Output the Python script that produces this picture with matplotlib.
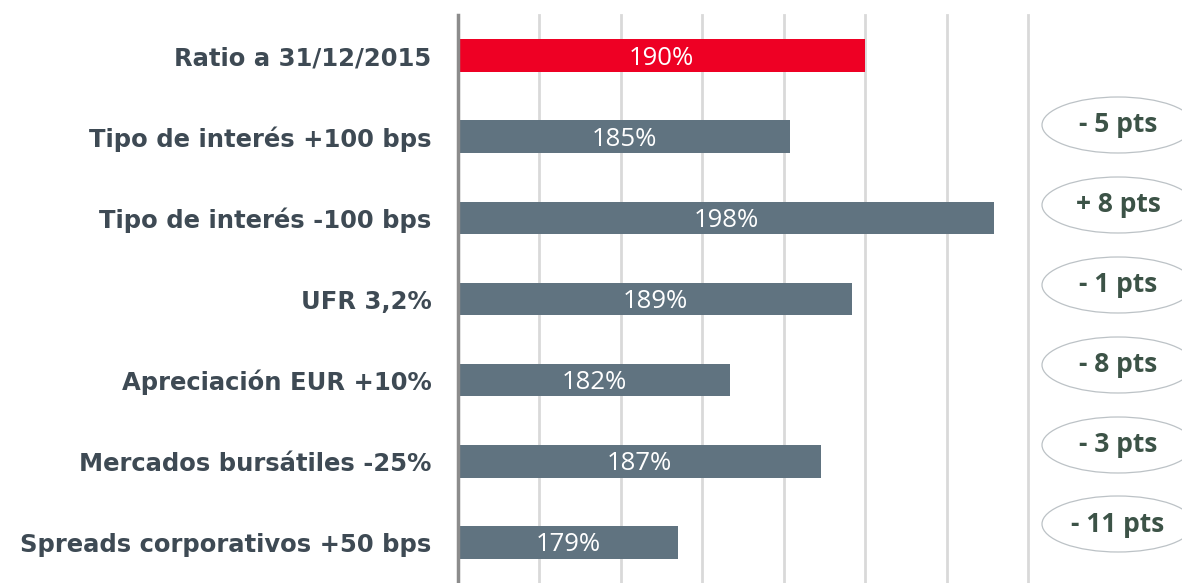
import matplotlib
matplotlib.use("Agg")
import matplotlib.pyplot as plt
from matplotlib.patches import Ellipse

categories = ["Ratio a 31/12/2015", "Tipo de interés +100 bps", "Tipo de interés -100 bps",
              "UFR 3,2%", "Apreciación EUR +10%", "Mercados bursátiles -25%",
              "Spreads corporativos +50 bps"]
values = [190, 185.4, 197.9, 189.2, 181.7, 187.3, 178.5]
value_labels = ["190%", "185%", "198%", "189%", "182%", "187%", "179%"]
delta_labels = ["- 5 pts", "+ 8 pts", "- 1 pts", "- 8 pts", "- 3 pts", "- 11 pts"]

fig = plt.figure(figsize=(11.82, 5.83), dpi=100)
ax = fig.add_axes([458/1182, 0.0, (1028-458)/1182, 1 - 15/583])

xmin, xmax = 165, 200
colors = ["#EE0024"] + ["#607380"] * (len(values) - 1)
ypos = list(range(len(values)))
ax.barh(ypos, [v - xmin for v in values], left=xmin, height=0.4, color=colors, zorder=3)
ax.set_xlim(xmin, xmax)
ax.set_ylim(len(values) - 0.5, -0.5)

ax.set_xticks(range(xmin, xmax + 1, 5))
ax.xaxis.grid(True, color="#D9D9D9", linewidth=2, zorder=0)
for gl in ax.get_xgridlines():
    gl.set_clip_on(False)
ax.tick_params(axis="x", length=0, labelbottom=False)
ax.tick_params(axis="y", length=0, pad=19)
ax.set_yticks(ypos)
ax.set_yticklabels(categories, fontsize=17.5, fontweight="bold", color="#3E4A54",
                   family="DejaVu Sans")
for s in ["top", "right", "bottom"]:
    ax.spines[s].set_visible(False)
ax.spines["left"].set_color("#8C8C8C")
ax.spines["left"].set_linewidth(2.5)
ax.spines["left"].set_zorder(4)

for y, v, lab in zip(ypos, values, value_labels):
    ax.text((xmin + v) / 2, y + 0.03, lab, ha="center", va="center", color="white",
            fontsize=18.5, family="Open Sans", zorder=5)

# delta ellipses, placed in figure pixels
W, H = 1182, 583
centers_y = [125, 205, 285, 365, 445, 524]
for cy, lab in zip(centers_y, delta_labels):
    e = Ellipse((1118 / W, 1 - cy / H), 152 / W, 56 / H, transform=fig.transFigure,
                facecolor="white", edgecolor="#BCC2C6", linewidth=0.9)
    fig.add_artist(e)
    fig.text(1118 / W, 1 - cy / H, lab, ha="center", va="center", fontsize=19,
             fontweight="bold", color="#3C5347", family="Open Sans")

fig.savefig("out.png", dpi=100)
